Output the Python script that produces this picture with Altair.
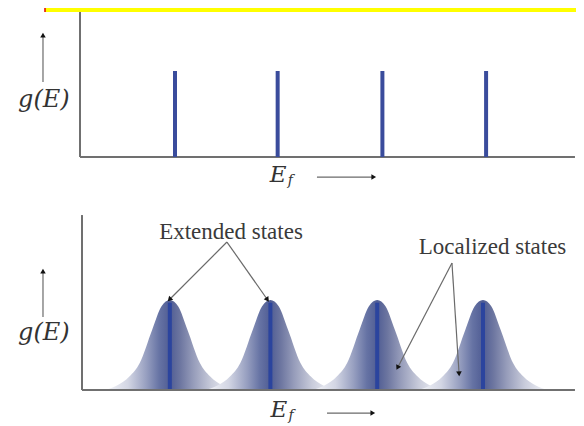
import math
import altair as alt
import pandas as pd

# ---------------- data ----------------
# energy axis in "level spacing" units, g(E) in units of the peak height
top_levels = [1.00, 1.99, 3.00, 4.00]          # sharp levels (upper panel)
top_level_height = [1.0, 1.0, 1.0, 1.0]
bottom_peaks = [0.95, 1.92, 2.95, 3.97]        # broadened levels (lower panel)
bottom_line_height = [0.97, 0.97, 0.97, 0.97]
profile_offset = [-0.63, -0.51, -0.39, -0.29, -0.17, -0.08, 0.0, 0.08, 0.17, 0.29, 0.39, 0.51, 0.63]
profile_height = [0.00, 0.05, 0.15, 0.30, 0.67, 0.93, 1.00, 0.93, 0.67, 0.30, 0.15, 0.05, 0.00]

# axes frames: [x start, x end, y top]
top_frame = [0.084, 4.857, 1.686]
bottom_frame = [0.103, 4.857, 1.944]

# labels
ylabel_text = "g(E)"
ylabel_x = -0.265
ylabel_y_top = 0.663
ylabel_y_bottom = 0.633
yarrow_x = -0.273
yarrow_top = [0.872, 1.407]
yarrow_bottom = [0.811, 1.311]
elabel_E_x = [1.994, 2.002]
elabel_E_y = [-0.209, -0.222]
elabel_f_x = [2.112, 2.120]
elabel_f_y = [-0.279, -0.289]
earrow_top = [2.369, 2.909, -0.233]
earrow_bottom = [2.466, 2.900, -0.256]

annot_text = ["Extended states", "Localized states"]
annot_x = [1.540, 4.062]
annot_y = [1.756, 1.589]
# annotation arrows (lower panel): start x, start y, end x, end y
arrow_x1 = [1.501, 1.501, 3.671, 3.671]
arrow_y1 = [1.644, 1.644, 1.411, 1.411]
arrow_x2 = [0.952, 1.887, 3.150, 3.739]
arrow_y2 = [1.011, 1.011, 0.256, 0.189]

# header strip
header_x = [-0.2536, 4.867]
header_y = [1.686, 1.7326]

# ---------------- scales ----------------
X = alt.Scale(domain=[-0.6104, 4.867], nice=False, zero=False)
YT = alt.Scale(domain=[-3.1047, 1.7326], nice=False, zero=False)
YB = alt.Scale(domain=[-0.3778, 4.2444], nice=False, zero=False)
PX_PER_X = 103.7
PX_PER_YB = 90.0

AXIS_COLOR = "#707070"
ARROW_COLOR = "#6a6a6a"


def xq(f):
    return alt.X(f, type="quantitative", scale=X, axis=None)


def yq(f, s):
    return alt.Y(f, type="quantitative", scale=s, axis=None)


def heading(dx, dy_up, sx, sy):
    ang = math.degrees(math.atan2(dx * sx, dy_up * sy))
    return ang % 360


layers = []

# header strip
hdr = pd.DataFrame({"x": [header_x[0]], "x2": [header_x[1]], "y": [header_y[0]], "y2": [header_y[1]]})
layers.append(alt.Chart(hdr).mark_rect(color="#ffff00").encode(
    x=xq("x"), x2="x2", y=yq("y", YT), y2="y2"))
layers.append(alt.Chart(hdr).mark_rule(color="#e00000", strokeWidth=1.5).encode(
    x=xq("x"), y=yq("y", YT), y2="y2"))

# ---- upper panel ----
tf = pd.DataFrame({"x": [top_frame[0], top_frame[0]], "x2": [top_frame[0], top_frame[1]],
                   "y": [0.0, 0.0], "y2": [top_frame[2], 0.0]})
layers.append(alt.Chart(tf).mark_rule(color=AXIS_COLOR, strokeWidth=2).encode(
    x=xq("x"), x2="x2", y=yq("y", YT), y2="y2"))

spikes = pd.DataFrame({"E": top_levels, "g": top_level_height})
layers.append(alt.Chart(spikes).mark_rule(color="#3a4c9c", strokeWidth=4).encode(
    x=xq("E"), y=yq("g", YT), y2=alt.datum(0)))

# ---- lower panel ----
bf = pd.DataFrame({"x": [bottom_frame[0], bottom_frame[0]], "x2": [bottom_frame[0], bottom_frame[1]],
                   "y": [0.0, 0.0], "y2": [bottom_frame[2], 0.0]})

rows = []
for i, c in enumerate(bottom_peaks):
    for o, h in zip(profile_offset, profile_height):
        rows.append({"peak": i, "E": c + o, "g": h})
peaks = pd.DataFrame(rows)

grad = alt.Gradient(
    gradient="linear", x1=0, x2=1, y1=0, y2=0,
    stops=[
        alt.GradientStop(offset=0.0, color="#f6f7fb"),
        alt.GradientStop(offset=0.18, color="#d3d6e4"),
        alt.GradientStop(offset=0.32, color="#979fc0"),
        alt.GradientStop(offset=0.42, color="#6673a4"),
        alt.GradientStop(offset=0.5, color="#505d94"),
        alt.GradientStop(offset=0.58, color="#6d76a0"),
        alt.GradientStop(offset=0.68, color="#969cba"),
        alt.GradientStop(offset=0.82, color="#c9ccdb"),
        alt.GradientStop(offset=1.0, color="#f6f7fb"),
    ],
)
layers.append(alt.Chart(peaks).mark_area(interpolate="monotone", color=grad).encode(
    x=xq("E"), y=yq("g", YB), y2=alt.datum(0), detail="peak:N"))

lines = pd.DataFrame({"E": bottom_peaks, "g": bottom_line_height})
layers.append(alt.Chart(lines).mark_rule(color="#2b449e", strokeWidth=4).encode(
    x=xq("E"), y=yq("g", YB), y2=alt.datum(0)))

layers.append(alt.Chart(bf).mark_rule(color=AXIS_COLOR, strokeWidth=2).encode(
    x=xq("x"), x2="x2", y=yq("y", YB), y2="y2"))

# ---- y labels and up arrows ----
for s, yl, ya in [(YT, ylabel_y_top, yarrow_top), (YB, ylabel_y_bottom, yarrow_bottom)]:
    d = pd.DataFrame({"x": [ylabel_x], "y": [yl], "t": [ylabel_text]})
    layers.append(alt.Chart(d).mark_text(font="DejaVu Serif", fontStyle="italic", fontSize=24,
                                         color="#333333", align="center", baseline="middle").encode(
        x=xq("x"), y=yq("y", s), text="t:N"))
    a = pd.DataFrame({"x": [yarrow_x], "y": [ya[0]], "y2": [ya[1]]})
    layers.append(alt.Chart(a).mark_rule(color=ARROW_COLOR, strokeWidth=1.2).encode(
        x=xq("x"), y=yq("y", s), y2="y2"))
    h = pd.DataFrame({"x": [yarrow_x], "y": [ya[1]], "ang": [0.0]})
    layers.append(alt.Chart(h).mark_point(shape="triangle", filled=True, size=30, color="#111111",
                                          opacity=1).encode(
        x=xq("x"), y=yq("y", s), angle=alt.Angle("ang:Q", scale=None)))

# ---- E_f labels and right arrows ----
for i, (s, ea) in enumerate([(YT, earrow_top), (YB, earrow_bottom)]):
    d = pd.DataFrame({"x": [elabel_E_x[i]], "y": [elabel_E_y[i]], "t": ["E"]})
    layers.append(alt.Chart(d).mark_text(font="DejaVu Serif", fontStyle="italic", fontSize=23,
                                         color="#333333", align="center", baseline="middle").encode(
        x=xq("x"), y=yq("y", s), text="t:N"))
    d2 = pd.DataFrame({"x": [elabel_f_x[i]], "y": [elabel_f_y[i]], "t": ["f"]})
    layers.append(alt.Chart(d2).mark_text(font="DejaVu Serif", fontStyle="italic", fontSize=14,
                                          color="#333333", align="center", baseline="middle").encode(
        x=xq("x"), y=yq("y", s), text="t:N"))
    a = pd.DataFrame({"x": [ea[0]], "x2": [ea[1]], "y": [ea[2]]})
    layers.append(alt.Chart(a).mark_rule(color=ARROW_COLOR, strokeWidth=1.2).encode(
        x=xq("x"), x2="x2", y=yq("y", s)))
    h = pd.DataFrame({"x": [ea[1]], "y": [ea[2]], "ang": [90.0]})
    layers.append(alt.Chart(h).mark_point(shape="triangle", filled=True, size=30, color="#111111",
                                          opacity=1).encode(
        x=xq("x"), y=yq("y", s), angle=alt.Angle("ang:Q", scale=None)))

# ---- annotations ----
at = pd.DataFrame({"x": annot_x, "y": annot_y, "t": annot_text})
layers.append(alt.Chart(at).mark_text(font="Liberation Serif", fontSize=23, color="#3a3a3a",
                                      align="center", baseline="middle").encode(
    x=xq("x"), y=yq("y", YB), text="t:N"))

arr = pd.DataFrame({"x": arrow_x1, "y": arrow_y1, "x2": arrow_x2, "y2": arrow_y2})
arr["ang"] = [heading(b - a, d - c, PX_PER_X, PX_PER_YB)
              for a, b, c, d in zip(arrow_x1, arrow_x2, arrow_y1, arrow_y2)]
layers.append(alt.Chart(arr).mark_rule(color=ARROW_COLOR, strokeWidth=1.2).encode(
    x=xq("x"), x2="x2", y=yq("y", YB), y2="y2"))
layers.append(alt.Chart(arr).mark_point(shape="triangle", filled=True, size=32, color="#111111",
                                        opacity=1).encode(
    x=xq("x2"), y=yq("y2", YB), angle=alt.Angle("ang:Q", scale=None)))

chart = alt.layer(*layers).resolve_scale(y="independent").properties(
    width=568, height=416, autosize=alt.AutoSizeParams(type="none"), padding=0
).configure_view(stroke=None)

chart.save("out.html", embed_options={"renderer": "svg", "actions": False})
